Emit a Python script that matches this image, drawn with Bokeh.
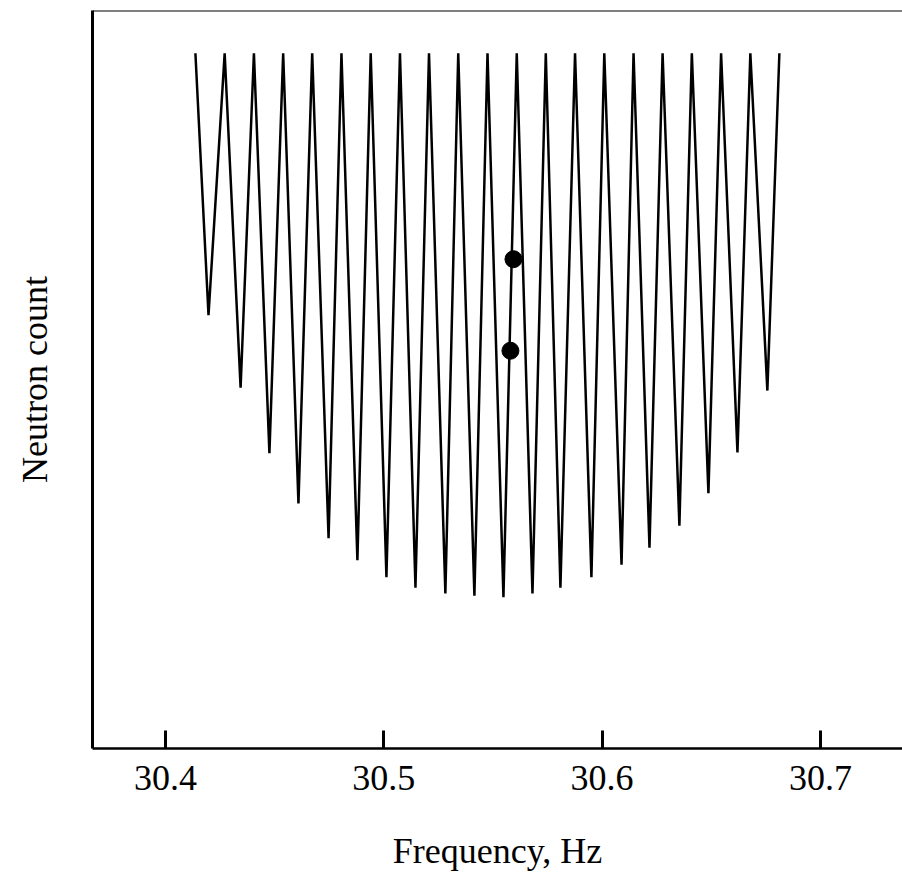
from bokeh.plotting import figure
from bokeh.models import Range1d, FixedTicker, Span
from bokeh.embed import file_html
from bokeh.resources import INLINE

# Peaks of the zigzag (frequency in Hz, neutron count, arbitrary units)
peak_freq = [30.4137, 30.4271, 30.4405, 30.4539, 30.4672, 30.4806, 30.4940,
             30.5074, 30.5207, 30.5341, 30.5475, 30.5609, 30.5742, 30.5876,
             30.6010, 30.6144, 30.6277, 30.6411, 30.6545, 30.6679, 30.6812]
peak_count = [942] * 21

# Valleys between the peaks
valley_freq = [30.4197, 30.4344, 30.4476, 30.4609, 30.4747, 30.4879, 30.5012,
               30.5145, 30.5282, 30.5415, 30.5548, 30.5681, 30.5809, 30.5951,
               30.6089, 30.6217, 30.6354, 30.6487, 30.6620, 30.6757]
valley_count = [587, 489, 400, 332, 285, 255, 232, 218, 210, 207, 205, 210,
                218, 232, 249, 272, 302, 346, 401, 485]

# Two marked points
dot_freq = [30.5594, 30.5580]
dot_count = [663, 539]

x_ticks = [30.4, 30.5, 30.6, 30.7]

# Build the zigzag path: peak, valley, peak, ...
zz_x, zz_y = [], []
for i in range(len(peak_freq)):
    zz_x.append(peak_freq[i]); zz_y.append(peak_count[i])
    if i < len(valley_freq):
        zz_x.append(valley_freq[i]); zz_y.append(valley_count[i])

FONT = "Liberation Serif"

p = figure(width=902, height=876, output_backend="svg", toolbar_location=None,
           x_range=Range1d(30.36656, 30.7376), y_range=Range1d(0, 1000),
           min_border_left=92, min_border_right=0, min_border_top=10,
           min_border_bottom=128)
p.outline_line_color = None
p.xgrid.visible = False
p.ygrid.visible = False
p.background_fill_color = "white"
p.border_fill_color = "white"

p.line(zz_x, zz_y, line_color="black", line_width=2.5)
p.scatter(dot_freq, dot_count, size=17, color="black")

# top frame line
p.add_layout(Span(location=1000, dimension="width", line_color="black", line_width=2))

xa = p.xaxis[0]
xa.ticker = FixedTicker(ticks=x_ticks)
xa.minor_tick_line_color = None
xa.major_tick_in = 18
xa.major_tick_out = 0
xa.major_tick_line_width = 3
xa.axis_line_width = 2.5
xa.major_label_text_font = FONT
xa.major_label_text_font_size = "36px"
xa.major_label_text_color = "black"
xa.major_label_standoff = 17
xa.axis_label = "Frequency, Hz"
xa.axis_label_text_font = FONT
xa.axis_label_text_font_size = "36px"
xa.axis_label_text_font_style = "normal"
xa.axis_label_text_color = "black"
xa.axis_label_standoff = 38

ya = p.yaxis[0]
ya.ticker = FixedTicker(ticks=[])
ya.minor_tick_line_color = None
ya.major_tick_line_color = None
ya.major_label_standoff = 0
ya.axis_line_width = 3
ya.axis_label = "Neutron count"
ya.axis_label_text_font = FONT
ya.axis_label_text_font_size = "36px"
ya.axis_label_text_font_style = "normal"
ya.axis_label_text_color = "black"
ya.axis_label_standoff = 38

open("out.html", "w").write(file_html(p, INLINE))
